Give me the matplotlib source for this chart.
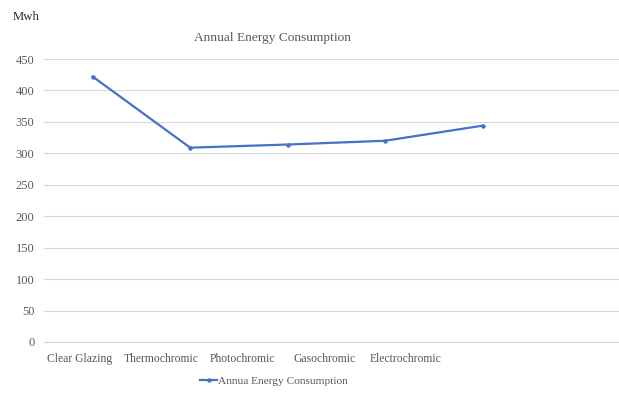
import matplotlib
matplotlib.use("Agg")
import matplotlib.pyplot as plt
import numpy as np

categories = ["Clear Glazing", "Thermochromic", "Photochromic", "Gasochromic", "Electrochromic"]
values = [422, 309, 314, 320, 344]
series_name = "Annua Energy Consumption"
yticks = [0, 50, 100, 150, 200, 250, 300, 350, 400, 450]

plt.rcParams['font.family'] = ['Liberation Serif', 'DejaVu Serif']
gray = "#595959"

fig = plt.figure(figsize=(6.19, 3.94), dpi=100)
ax = fig.add_axes([44/619, 1-342/394, 1-44/619, (342-59)/394])

x = np.arange(len(categories))
ax.plot(x, values, color="#4472C4", linewidth=1.6, marker="o", markersize=2.2, label=series_name)

ax.set_ylim(0, 450)
ax.set_xlim(-0.5, 5.4)
ax.set_yticks(yticks)
ax.set_yticklabels([str(v) for v in yticks], color=gray, fontsize=9)
ax.yaxis.grid(True, color="#D9D9D9", linewidth=0.8)
ax.set_axisbelow(True)
for s in ["top", "right", "left"]:
    ax.spines[s].set_visible(False)
ax.spines["bottom"].set_color("#D9D9D9")
ax.tick_params(axis="y", length=0, pad=7)
ax.tick_params(axis="x", length=0, pad=8)

# label positions (Excel layout offset)
lab_pos = -0.134 + 0.837 * x
ax.set_xticks(lab_pos)
ax.set_xticklabels(categories, color=gray, fontsize=8.4)

fig.text(273/619, 1-38/394, "Annual Energy Consumption", ha="center", va="center", color=gray, fontsize=9.6)
fig.text(13/619, 1-17/394, "Mwh", ha="left", va="center", color="#262626", fontsize=9.2)

leg = ax.legend(loc="center", bbox_to_anchor=(274/619, 1-381/394), bbox_transform=fig.transFigure,
                frameon=False, fontsize=8.2, handlelength=1.5, handletextpad=0.1, markerscale=1)
for t in leg.get_texts():
    t.set_color(gray)

fig.savefig("out.png", dpi=100)
